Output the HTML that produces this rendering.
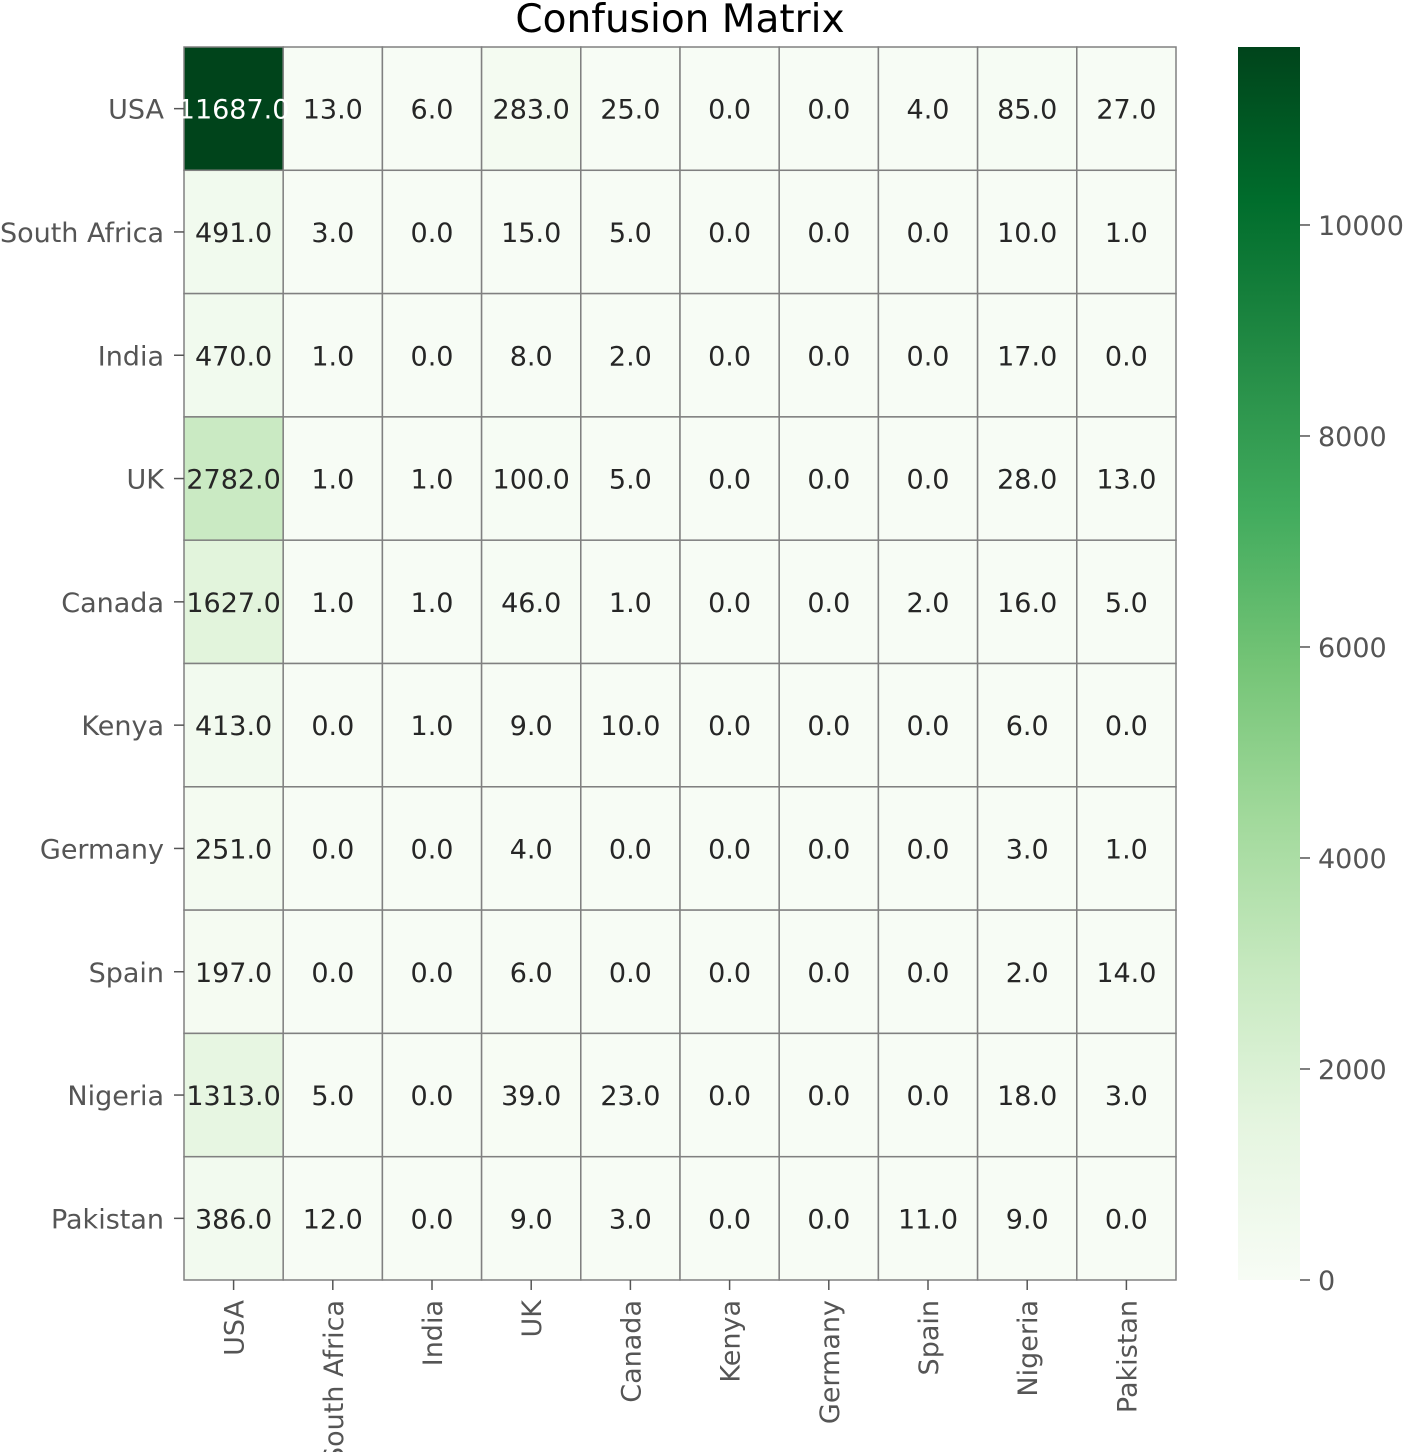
<!DOCTYPE html>
<html><head><meta charset="utf-8"><style>
html,body{margin:0;padding:0;background:#fff;}
svg{display:block;font-family:"DejaVu Sans","Liberation Sans",sans-serif;}
</style></head><body>
<svg id="chart" width="1416" height="1452" viewBox="0 0 1416 1452" xmlns="http://www.w3.org/2000/svg">
<defs><linearGradient id="cbgrad" x1="0" y1="1" x2="0" y2="0">
<stop offset="0" stop-color="#f7fcf5"/><stop offset="0.125" stop-color="#e5f5e0"/><stop offset="0.25" stop-color="#c7e9c0"/><stop offset="0.375" stop-color="#a1d99b"/><stop offset="0.5" stop-color="#74c476"/><stop offset="0.625" stop-color="#41ab5d"/><stop offset="0.75" stop-color="#238b45"/><stop offset="0.875" stop-color="#006d2c"/><stop offset="1" stop-color="#00441b"/>
</linearGradient></defs>
<text x="680" y="32" text-anchor="middle" font-size="39" fill="#000">Confusion Matrix</text>
<g id="cells"></g><g id="xaxis"></g><g id="yaxis"></g>
<rect x="1238" y="47" width="62" height="1233" fill="url(#cbgrad)"/>
<g id="cbaxis"></g>
</svg>
<script>
const labels = ["USA","South Africa","India","UK","Canada","Kenya","Germany","Spain","Nigeria","Pakistan"];
const row0 = [11687,13,6,283,25,0,0,4,85,27];
const row1 = [491,3,0,15,5,0,0,0,10,1];
const row2 = [470,1,0,8,2,0,0,0,17,0];
const row3 = [2782,1,1,100,5,0,0,0,28,13];
const row4 = [1627,1,1,46,1,0,0,2,16,5];
const row5 = [413,0,1,9,10,0,0,0,6,0];
const row6 = [251,0,0,4,0,0,0,0,3,1];
const row7 = [197,0,0,6,0,0,0,0,2,14];
const row8 = [1313,5,0,39,23,0,0,0,18,3];
const row9 = [386,12,0,9,3,0,0,11,9,0];
const matrix = [row0,row1,row2,row3,row4,row5,row6,row7,row8,row9];
const cbTicks = [0,2000,4000,6000,8000,10000];

const NS="http://www.w3.org/2000/svg";
const X0=184,X1=1176,Y0=47,Y1=1280;
const FS=27;
const n=labels.length, cw=(X1-X0)/n, ch=(Y1-Y0)/n;
let vmax=0; matrix.forEach(r=>r.forEach(v=>{if(v>vmax)vmax=v;}));
const vmin=0;
const stops=[[247,252,245],[229,245,224],[199,233,192],[161,217,155],[116,196,118],[65,171,93],[35,139,69],[0,109,44],[0,68,27]];
function color(v){let t=(v-vmin)/(vmax-vmin);t=Math.max(0,Math.min(1,t));const p=t*8,i=Math.min(7,Math.floor(p)),f=p-i;
const c=stops[i].map((a,k)=>Math.round(a+(stops[i+1][k]-a)*f));return `rgb(${c[0]},${c[1]},${c[2]})`;}
function lum(v){return (v-vmin)/(vmax-vmin);}
const xs=i=>X0+i*cw, ys=i=>Y0+i*ch;
const cbY=v=>Y1-(v-vmin)/(vmax-vmin)*(Y1-Y0);
function mk(tag,attrs,parent){const e=document.createElementNS(NS,tag);for(const k in attrs)e.setAttribute(k,attrs[k]);parent.appendChild(e);return e;}
const cells=document.getElementById('cells');
matrix.forEach((r,i)=>r.forEach((v,j)=>{
  const rc=mk('rect',{x:xs(j),y:ys(i),width:cw,height:ch,fill:color(v),stroke:'#808080','stroke-width':1.5},cells);
  
  
}));
matrix.forEach((r,i)=>r.forEach((v,j)=>{
  const t=mk('text',{x:xs(j)+cw/2,y:ys(i)+ch/2+10,'text-anchor':'middle','font-size':FS,fill:lum(v)>0.5?'#fff':'#262626'},cells);
  t.textContent=v.toFixed(1);
  
  
}));
const xa=document.getElementById('xaxis'), ya=document.getElementById('yaxis');
labels.forEach((l,i)=>{
  const cx=xs(i)+cw/2;
  mk('line',{x1:cx,x2:cx,y1:Y1,y2:Y1+10,stroke:'#555','stroke-width':1.5},xa);
  const t=mk('text',{x:0,y:0,transform:`translate(${cx+10},${Y1+20}) rotate(-90)`,'text-anchor':'end','font-size':FS,fill:'#555'},xa);
  t.textContent=l;
  
  
  const cy=ys(i)+ch/2;
  mk('line',{x1:X0-10,x2:X0,y1:cy,y2:cy,stroke:'#555','stroke-width':1.5},ya);
  const u=mk('text',{x:X0-20,y:cy+10,'text-anchor':'end','font-size':FS,fill:'#555'},ya);
  u.textContent=l;
  
  
});
const cb=document.getElementById('cbaxis');
cbTicks.forEach(v=>{
  const y=cbY(v);
  mk('line',{x1:1300,x2:1310,y1:y,y2:y,stroke:'#555','stroke-width':1.5},cb);
  const t=mk('text',{x:1318,y:y+10,'font-size':FS,fill:'#555'},cb);
  t.textContent=v;
  
  
});
</script>
</body></html>
